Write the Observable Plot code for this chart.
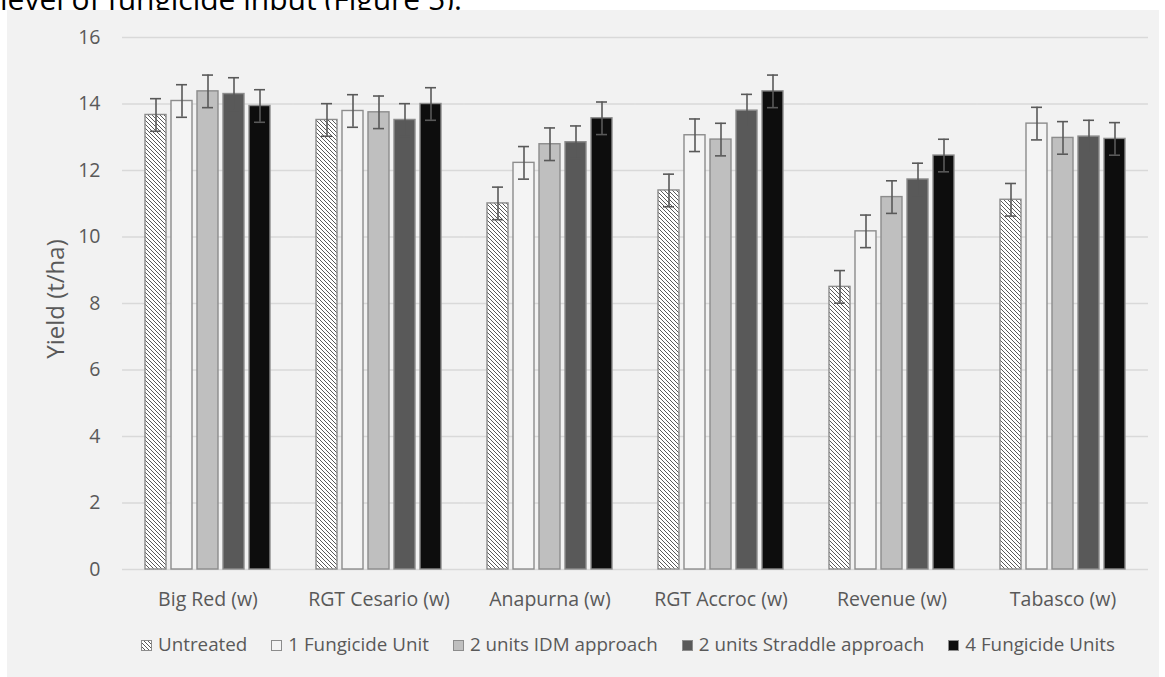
<!DOCTYPE html>
<html>
<head>
<meta charset="utf-8">
<script src="https://cdn.jsdelivr.net/npm/d3@7"></script>
<script src="https://cdn.jsdelivr.net/npm/@observablehq/plot@0.6"></script>
<style>
  html, body { margin: 0; padding: 0; background: #fff; width: 1165px; height: 677px; overflow: hidden; position: relative; }
  #lead { position: absolute; left: 0; top: -16px; font: 30px/30px "Open Sans", sans-serif; color: #000; white-space: nowrap; z-index: 0; }
  #panel { position: absolute; left: 7px; top: 10px; width: 1152px; height: 667px; background: #f2f2f2; z-index: 1; }
  #chart { position: absolute; left: 0; top: 0; z-index: 2; }
  #ytitle { position: absolute; left: 55px; top: 299px; transform: translate(-50%, -50%) rotate(-90deg); z-index: 2;
            font: 24px/24px "Open Sans", sans-serif; color: #595959; white-space: nowrap; }
  #legend { position: absolute; left: 141px; top: 634px; display: flex; gap: 24px; z-index: 2;
            font: 18.8px/20px "Open Sans", sans-serif; color: #595959; white-space: nowrap; }
  .item { display: flex; align-items: center; }
  .sw { width: 11px; height: 11px; box-sizing: border-box; border: 1px solid #8c8c8c; margin-right: 6px; transform: translateY(1px); }
</style>
</head>
<body>
<div id="lead">level of fungicide input (Figure 5).</div>
<div id="panel"></div>
<div id="chart"></div>
<div id="ytitle"></div>
<div id="legend"></div>
<script>
// Wheat varieties (x groups) and fungicide programmes (series)
const varieties = ["Big Red (w)", "RGT Cesario (w)", "Anapurna (w)", "RGT Accroc (w)", "Revenue (w)", "Tabasco (w)"];
const treatments = ["Untreated", "1 Fungicide Unit", "2 units IDM approach", "2 units Straddle approach", "4 Fungicide Units"];

// Mean yield (t/ha) per variety, one array per programme
const untreated = [13.67, 13.52, 11.01, 11.40, 8.50, 11.12];
const oneUnit   = [14.09, 13.79, 12.23, 13.06, 10.17, 13.41];
const idm       = [14.38, 13.75, 12.79, 12.93, 11.20, 12.98];
const straddle  = [14.30, 13.52, 12.85, 13.80, 11.73, 13.02];
const fourUnits = [13.94, 14.00, 13.57, 14.38, 12.45, 12.95];

// Error bar half-widths (t/ha)
const untreatedErr = [0.49, 0.49, 0.49, 0.49, 0.49, 0.49];
const oneUnitErr   = [0.49, 0.49, 0.49, 0.49, 0.49, 0.49];
const idmErr       = [0.49, 0.49, 0.49, 0.49, 0.49, 0.49];
const straddleErr  = [0.49, 0.49, 0.49, 0.49, 0.49, 0.49];
const fourUnitsErr = [0.49, 0.49, 0.49, 0.49, 0.49, 0.49];

const yTicks = [0, 2, 4, 6, 8, 10, 12, 14, 16];
const yLabel = "Yield (t/ha)";

const series = [untreated, oneUnit, idm, straddle, fourUnits];
const errors = [untreatedErr, oneUnitErr, idmErr, straddleErr, fourUnitsErr];
const fills = ["url(#hatch)", "#f4f4f4", "#bfbfbf", "#595959", "#0d0d0d"];

const rows = [];
varieties.forEach((v, i) => treatments.forEach((t, j) => {
  rows.push({variety: v, treatment: t, yield: series[j][i], err: errors[j][i]});
}));

const font = "'Open Sans', sans-serif";
const W = 1165, ML = 121, MR = 15;
const groupPadInner = 0.233, groupPadOuter = 0.1165;
// half the gap between variety groups, so the gridlines join up across facets
const step = (W - ML - MR) / (varieties.length - groupPadInner + 2 * groupPadOuter);
const halfGap = step * groupPadInner / 2;

const chart = Plot.plot({
  width: W,
  height: 620,
  marginLeft: ML,
  marginRight: MR,
  marginTop: 37,
  marginBottom: 51,
  style: {background: "transparent", color: "#595959", fontFamily: font, fontSize: "19.5px", overflow: "visible"},
  fx: {domain: varieties, paddingInner: groupPadInner, paddingOuter: groupPadOuter, label: null},
  x: {domain: treatments, paddingInner: 0.2, paddingOuter: 0.1, axis: null},
  y: {domain: [0, 16]},
  color: {type: "ordinal", domain: treatments, range: fills},
  marks: [
    Plot.ruleY(yTicks, {stroke: "#d9d9d9", strokeWidth: 1.3, insetLeft: -halfGap, insetRight: -halfGap}),
    Plot.axisY({ticks: yTicks, tickSize: 0, tickPadding: 22 + halfGap, fontSize: 19.5, label: null}),
    Plot.axisFx({anchor: "bottom", tickSize: 0, tickPadding: 23, fontSize: 19.5, label: null}),
    Plot.barY(rows, {fx: "variety", x: "treatment", y: "yield", fill: "treatment", stroke: "#8c8c8c", strokeWidth: 1.4}),
    Plot.ruleX(rows, {fx: "variety", x: "treatment", y1: d => d.yield - d.err, y2: d => d.yield + d.err,
                      stroke: "#595959", strokeWidth: 1.6}),
    Plot.tickY(rows, {fx: "variety", x: "treatment", y: d => d.yield + d.err, stroke: "#595959", strokeWidth: 1.6,
                      insetLeft: 5, insetRight: 5}),
    Plot.tickY(rows, {fx: "variety", x: "treatment", y: d => d.yield - d.err, stroke: "#595959", strokeWidth: 1.6,
                      insetLeft: 5, insetRight: 5})
  ]
});

// Diagonal hatching used by the untreated bars
chart.insertAdjacentHTML("afterbegin",
  `<defs><pattern id="hatch" patternUnits="userSpaceOnUse" width="4" height="4">
     <rect width="4" height="4" fill="#ffffff"/>
     <path d="M-1,-1 L5,5 M-1,3 L1,5 M3,-1 L5,1" stroke="#5a5a5a" stroke-width="1"/>
   </pattern></defs>`);

document.getElementById("chart").appendChild(chart);
document.getElementById("ytitle").textContent = yLabel;

// Legend
const legend = d3.select("#legend");
treatments.forEach((t, j) => {
  const item = legend.append("div").attr("class", "item");
  const sw = item.append("div").attr("class", "sw");
  if (j === 0) {
    sw.style("background", "repeating-linear-gradient(45deg, #ffffff 0 1.8px, #5a5a5a 1.8px 2.8px)");
  } else {
    sw.style("background", fills[j]);
  }
  item.append("span").text(t);
});
</script>
</body>
</html>
